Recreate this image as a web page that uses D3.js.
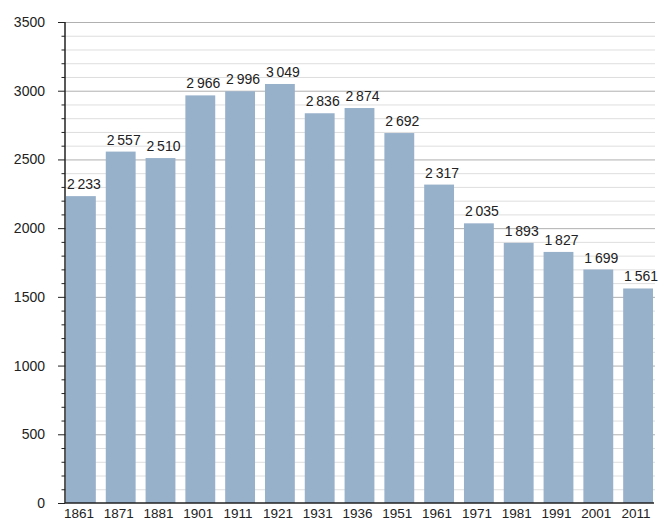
<!DOCTYPE html>
<html><head><meta charset="utf-8">
<script src="https://cdn.jsdelivr.net/npm/d3@7"></script>
<style>
html,body{margin:0;padding:0;background:#fff;}
svg text{font-family:"Liberation Sans",Arial,sans-serif;fill:#222;}
</style></head>
<body><svg id="c" width="664" height="531"></svg>
<script>
const years = ["1861","1871","1881","1901","1911","1921","1931","1936","1951","1961","1971","1981","1991","2001","2011"];
const population = [2233,2557,2510,2966,2996,3049,2836,2874,2692,2317,2035,1893,1827,1699,1561];
const yTicks = [0,500,1000,1500,2000,2500,3000,3500];

const svg = d3.select("#c");
const x = d3.scaleBand().domain(years).range([61,658]).paddingInner(0.25).paddingOuter(0.125);
const y = d3.scaleLinear().domain([0,3500]).range([503,22]);
const minor = d3.range(0,3501,100).filter(v=>v%500!==0);

// minor grid
svg.append("g").selectAll("line").data(minor).join("line")
  .attr("x1",65).attr("x2",655).attr("y1",d=>y(d)+0.5).attr("y2",d=>y(d)+0.5)
  .attr("stroke","#dedede").attr("stroke-width",1);
// major grid
svg.append("g").selectAll("line").data(yTicks.filter(d=>d>0)).join("line")
  .attr("x1",65).attr("x2",655).attr("y1",d=>y(d)+0.5).attr("y2",d=>y(d)+0.5)
  .attr("stroke","#b0b0b0").attr("stroke-width",1);

// bars
svg.append("g").selectAll("rect").data(population).join("rect")
  .attr("x",(d,i)=>x(years[i])).attr("width",x.bandwidth())
  .attr("y",d=>y(d)).attr("height",d=>y(0)-y(d))
  .attr("fill","#98b1cb");

// value labels
const fmt = v => { const s = String(v); return s.slice(0,s.length-3)+"\u2009"+s.slice(-3); };
svg.append("g").selectAll("text").data(population).join("text")
  .attr("x",(d,i)=>x(years[i])+x.bandwidth()/2+3).attr("y",d=>y(d)-7)
  .attr("text-anchor","middle").attr("font-size","14px").attr("fill","#1a1a1a").text(d=>fmt(d));

// y axis minor ticks
svg.append("g").selectAll("line").data(minor).join("line")
  .attr("x1",61.5).attr("x2",65).attr("y1",d=>y(d)+0.5).attr("y2",d=>y(d)+0.5)
  .attr("stroke","#222").attr("stroke-width",1);
// y axis via d3
const yAxis = svg.append("g").attr("transform","translate(65,0)")
  .call(d3.axisLeft(y).tickValues(yTicks).tickSize(7).tickPadding(13).tickFormat(d3.format("d")));
yAxis.select(".domain").attr("stroke","#222").attr("stroke-width",1.5).attr("d","M0,"+y(3500)+"V"+y(0));
yAxis.selectAll(".tick line").attr("stroke","#222");
yAxis.selectAll("text").attr("font-size","14px").attr("font-family","Liberation Sans, Arial, sans-serif").attr("fill","#2a2a2a");

// x axis
const xAxis = svg.append("g").attr("transform","translate(0,503)")
  .call(d3.axisBottom(x).tickSize(0).tickPadding(5));
xAxis.select(".domain").attr("stroke","#222").attr("stroke-width",1.5).attr("d","M65,0H654");
xAxis.selectAll("text").attr("font-size","13.5px").attr("font-family","Liberation Sans, Arial, sans-serif").attr("fill","#1a1a1a").attr("dx","-2");
</script></body></html>
